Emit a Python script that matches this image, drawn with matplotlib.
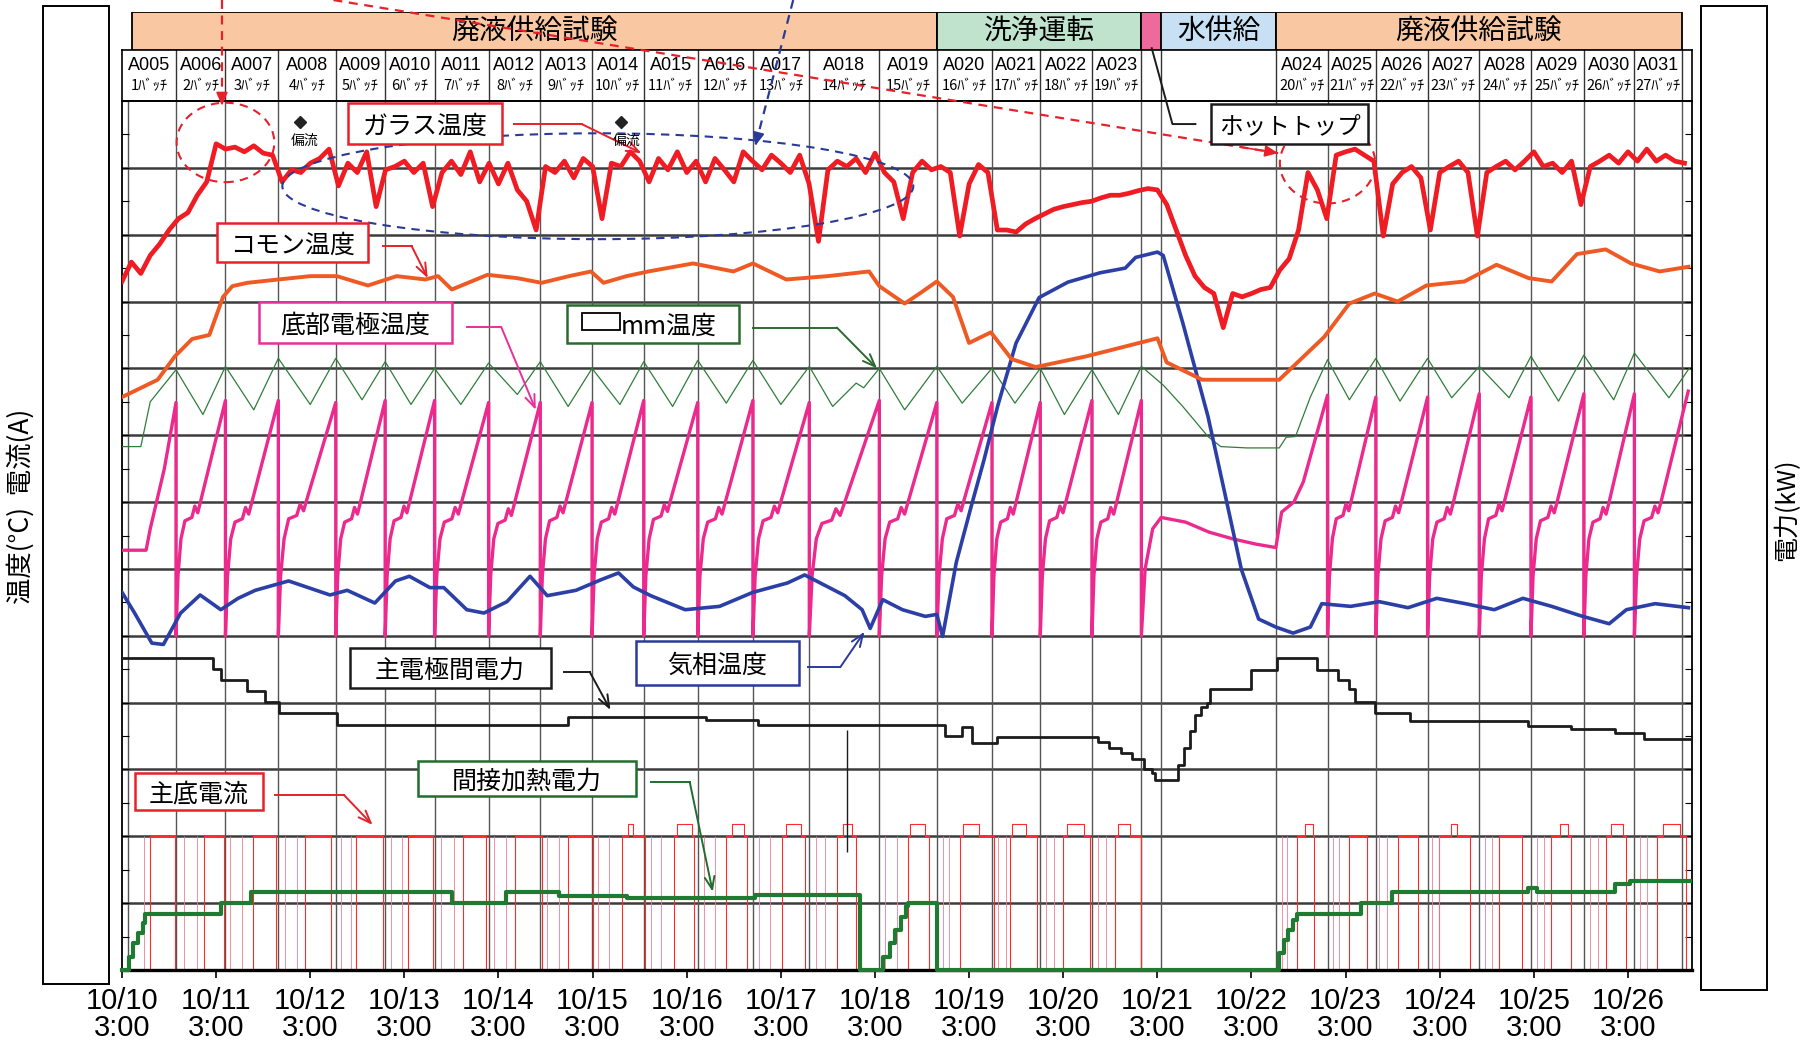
import numpy as np
import matplotlib
matplotlib.use("Agg")
import matplotlib.pyplot as plt
from matplotlib.patches import Rectangle, Ellipse

plt.rcParams["font.family"] = ["Noto Sans CJK JP", "DejaVu Sans"]
NARROW = ["Liberation Sans Narrow", "Liberation Sans", "DejaVu Sans"]

# x = days from 10/10 3:00, y = chart divisions (13 between bottom and top line)
day_ticks = list(range(17))
day_labels = ["10/%d\n3:00" % (10 + d) for d in day_ticks]
x_max = 16.68

# batch table above the trend area
batch_edges = [0.000, 0.574, 1.099, 1.661, 2.271, 2.796, 3.321, 3.895, 4.444, 4.994,
               5.543, 6.117, 6.703, 7.302, 8.046, 8.657, 9.243, 9.756, 10.305, 10.830,
               11.038, 12.259, 12.808, 13.321, 13.871, 14.420, 14.969, 15.531, 16.068, 16.569]
batch_names = ["A005", "A006", "A007", "A008", "A009", "A010", "A011", "A012", "A013", "A014",
               "A015", "A016", "A017", "A018", "A019", "A020", "A021", "A022", "A023", "", "",
               "A024", "A025", "A026", "A027", "A028", "A029", "A030", "A031"]
batch_counts = ["1ﾊﾞｯﾁ", "2ﾊﾞｯﾁ", "3ﾊﾞｯﾁ", "4ﾊﾞｯﾁ", "5ﾊﾞｯﾁ", "6ﾊﾞｯﾁ", "7ﾊﾞｯﾁ", "8ﾊﾞｯﾁ",
                "9ﾊﾞｯﾁ", "10ﾊﾞｯﾁ", "11ﾊﾞｯﾁ", "12ﾊﾞｯﾁ", "13ﾊﾞｯﾁ", "14ﾊﾞｯﾁ", "15ﾊﾞｯﾁ",
                "16ﾊﾞｯﾁ", "17ﾊﾞｯﾁ", "18ﾊﾞｯﾁ", "19ﾊﾞｯﾁ", "", "", "20ﾊﾞｯﾁ", "21ﾊﾞｯﾁ",
                "22ﾊﾞｯﾁ", "23ﾊﾞｯﾁ", "24ﾊﾞｯﾁ", "25ﾊﾞｯﾁ", "26ﾊﾞｯﾁ", "27ﾊﾞｯﾁ"]

# operation phases
phase_names = ["廃液供給試験", "洗浄運転", "", "水供給", "廃液供給試験"]
phase_edges = [0.11, 8.657, 10.830, 11.038, 12.259, 16.569]
phase_colors = ["#f9c7a2", "#bfe3cd", "#ef6a9c", "#c7e0f4", "#f9c7a2"]

# glass temperature, sampled every 0.1 day
glass_t = np.arange(167) * 0.1
glass_v = [10.30, 10.59, 10.42, 10.69, 10.86, 11.07, 11.24, 11.33, 11.59, 11.79,
           12.36, 12.28, 12.31, 12.24, 12.33, 12.22, 12.19, 11.79, 11.97, 11.93,
           12.07, 12.14, 12.28, 11.73, 12.07, 11.93, 12.24, 11.42, 11.97, 12.02,
           12.10, 11.93, 12.07, 11.42, 11.93, 12.10, 11.90, 12.24, 11.79, 12.07,
           11.76, 12.07, 11.67, 11.50, 11.07, 12.02, 11.93, 12.10, 11.85, 12.14,
           12.02, 11.24, 12.07, 12.02, 12.24, 12.10, 11.79, 12.14, 11.97, 12.24,
           11.93, 12.10, 11.79, 12.14, 11.97, 11.79, 12.24, 12.10, 11.97, 12.19,
           12.07, 11.93, 12.19, 11.76, 10.90, 11.97, 12.10, 12.02, 12.14, 11.93,
           12.22, 11.93, 11.79, 11.24, 11.93, 12.10, 11.97, 12.02, 11.93, 10.98,
           11.76, 12.05, 11.93, 11.07, 11.07, 11.04, 11.16, 11.24, 11.31, 11.38,
           11.42, 11.45, 11.48, 11.50, 11.55, 11.59, 11.59, 11.62, 11.66, 11.69,
           11.67, 11.45, 11.07, 10.69, 10.38, 10.21, 10.12, 9.61, 10.12, 10.07,
           10.12, 10.18, 10.21, 10.47, 10.64, 11.07, 11.93, 11.67, 11.24, 12.19,
           12.24, 12.28, 12.19, 12.10, 10.98, 11.76, 11.93, 12.02, 11.85, 11.07,
           11.93, 12.02, 12.10, 11.93, 10.98, 11.93, 12.02, 12.10, 11.97, 12.10,
           12.24, 12.02, 12.07, 11.93, 12.10, 11.45, 12.02, 12.10, 12.19, 12.07,
           12.24, 12.10, 12.28, 12.10, 12.19, 12.10, 12.07]

# common (コモン) temperature
common_t = [0.000, 0.379, 0.562, 0.745, 0.928, 1.074, 1.172, 1.331, 1.661, 2.002,
            2.283, 2.613, 2.918, 3.223, 3.358, 3.504, 3.883, 4.200, 4.457, 4.750,
            4.982, 5.116, 5.360, 5.592, 6.068, 6.496, 6.703, 7.057, 7.497, 7.937,
            8.046, 8.315, 8.474, 8.657, 8.828, 8.999, 9.231, 9.451, 9.707, 10.244,
            11.001, 11.099, 11.477, 11.893, 12.295, 12.772, 13.040, 13.309, 13.553, 13.858,
            14.261, 14.603, 14.945, 15.189, 15.458, 15.763, 16.032, 16.337, 16.642]
common_v = [8.57, 8.83, 9.18, 9.44, 9.50, 10.07, 10.23, 10.28, 10.33, 10.38,
            10.38, 10.24, 10.38, 10.33, 10.38, 10.18, 10.40, 10.35, 10.28, 10.38,
            10.45, 10.28, 10.38, 10.45, 10.57, 10.45, 10.57, 10.33, 10.38, 10.45,
            10.23, 9.97, 10.12, 10.30, 10.07, 9.38, 9.54, 9.14, 9.02, 9.18,
            9.45, 9.09, 8.83, 8.83, 8.83, 9.47, 9.97, 10.12, 10.00, 10.24,
            10.30, 10.55, 10.35, 10.30, 10.71, 10.78, 10.57, 10.45, 10.52]

# □mm temperature
mm_t = [0, 0.2, 0.3, 0.574, 0.86, 1.099, 1.40, 1.661, 2.0, 2.271, 2.55, 2.796, 3.07, 3.321,
        3.6, 3.895, 4.2, 4.444, 4.74, 4.994, 5.29, 5.543, 5.85, 6.117, 6.42, 6.703, 7.0,
        7.302, 7.55, 7.8, 7.88, 8.046, 8.315, 8.657, 8.926, 9.243, 9.487, 9.756, 10.012,
        10.305, 10.586, 10.830, 11.062, 11.27, 11.538, 11.673, 11.954, 12.295, 12.369,
        12.467, 12.625, 12.808, 13.04, 13.321, 13.578, 13.871, 14.127, 14.420, 14.737,
        14.969, 15.262, 15.531, 15.848, 16.068, 16.435, 16.65]
mm_v = [7.83, 7.83, 8.5, 8.98, 8.31, 9.03, 8.38, 9.15, 8.46, 9.15, 8.53, 9.10, 8.46, 9.00,
        8.46, 9.08, 8.61, 9.10, 8.43, 9.00, 8.46, 9.10, 8.43, 9.12, 8.48, 9.12, 8.46,
        9.03, 8.43, 8.78, 8.71, 9.00, 8.38, 9.03, 8.48, 9.00, 8.48, 9.00, 8.31,
        8.98, 8.31, 9.03, 8.75, 8.43, 7.98, 7.83, 7.81, 7.81, 7.97,
        7.98, 8.57, 9.13, 8.53, 9.15, 8.51, 9.15, 8.56, 9.03, 8.56,
        9.18, 8.51, 9.20, 8.53, 9.23, 8.56, 9.0]

# bottom electrode temperature: one saw tooth per batch
elec_floor = 5.0
elec_peak = [8.49, 8.52, 8.52, 8.49, 8.52, 8.52, 8.49, 8.49, 8.49, 8.52,
             8.49, 8.52, 8.49, 8.52, 8.49, 8.49, 8.49, 8.52, 8.52, None, None,
             8.60, 8.57, 8.57, 8.62, 8.57, 8.62, 8.62, 8.66]
elec_shelf = [6.70, 6.72, 6.70, 6.75, 6.70, 6.72, 6.70, 6.68, 6.72, 6.70,
              6.74, 6.70, 6.72, 6.68, 6.70, 6.75, 6.70, 6.72, 6.70, None, None,
              6.85, 6.75, 6.72, 6.70, 6.75, 6.72, 6.70, 6.72]
elec_start_t = [0.0, 0.256, 0.30, 0.38, 0.45, 0.574]
elec_start_v = [6.28, 6.28, 6.6, 7.08, 7.5, 8.49]
elec_idle_t = [10.830, 10.87, 10.95, 11.04, 11.3, 11.55, 11.8, 12.05, 12.259,
               12.32, 12.45, 12.55, 12.808]
elec_idle_v = [5.0, 6.0, 6.6, 6.77, 6.7, 6.55, 6.45, 6.37, 6.32,
               6.85, 7.0, 7.3, 8.60]
elec_end = 16.64

# gas phase temperature
gas_t = [0.000, 0.134, 0.317, 0.440, 0.623, 0.830, 1.050, 1.233, 1.416, 1.770,
         2.210, 2.393, 2.686, 2.906, 3.053, 3.272, 3.419, 3.663, 3.846, 4.090,
         4.335, 4.518, 4.823, 5.092, 5.275, 5.433, 5.617, 5.983, 6.349, 6.703,
         7.070, 7.253, 7.680, 7.863, 7.949, 8.083, 8.291, 8.535, 8.657, 8.718,
         8.864, 9.023, 9.158, 9.304, 9.499, 9.744, 10.049, 10.391, 10.659, 10.769,
         11.001, 11.062, 11.270, 11.538, 11.709, 11.893, 12.076, 12.259, 12.442, 12.625,
         12.747, 13.053, 13.358, 13.663, 13.968, 14.274, 14.579, 14.884, 15.189, 15.495,
         15.800, 15.983, 16.288, 16.642]
gas_v = [5.65, 5.34, 4.89, 4.87, 5.34, 5.61, 5.39, 5.56, 5.68, 5.82,
         5.61, 5.68, 5.49, 5.82, 5.89, 5.72, 5.72, 5.39, 5.34, 5.51,
         5.89, 5.60, 5.68, 5.84, 5.94, 5.73, 5.60, 5.39, 5.44, 5.65,
         5.79, 5.91, 5.60, 5.39, 5.11, 5.54, 5.39, 5.29, 5.32, 4.99,
         6.10, 6.94, 7.63, 8.44, 9.38, 10.06, 10.29, 10.43, 10.50, 10.66,
         10.74, 10.69, 9.68, 8.28, 7.18, 5.99, 5.25, 5.13, 5.04, 5.13,
         5.48, 5.44, 5.51, 5.42, 5.56, 5.48, 5.39, 5.56, 5.44, 5.30,
         5.18, 5.39, 5.48, 5.42]

# main electrode power (step changes) and one short drop
power_t = [0, 0.965, 1.05, 1.331, 1.514, 1.673, 2.283, 4.737, 6.203, 6.752,
           8.742, 8.926, 9.035, 9.292, 10.366, 10.488, 10.611, 10.733, 10.855, 10.94,
           10.977, 11.221, 11.282, 11.343, 11.404, 11.465, 11.526, 11.563, 11.99, 12.271,
           12.698, 12.918, 13.04, 13.101, 13.309, 13.687, 14.933, 15.397, 15.861, 16.166, 16.654]
power_v = [4.67, 4.51, 4.34, 4.17, 4.01, 3.84, 3.67, 3.79, 3.74, 3.67,
           3.50, 3.63, 3.39, 3.48, 3.41, 3.32, 3.24, 3.15, 3.01, 2.94,
           2.84, 3.06, 3.32, 3.58, 3.81, 3.93, 4.00, 4.20, 4.49, 4.67,
           4.49, 4.34, 4.20, 4.01, 3.84, 3.72, 3.65, 3.60, 3.55, 3.46, 3.46]
power_drop_t = 7.70
power_drop_v = 1.77

# indirect heating power (step changes)
heat_t = [0, 0.073, 0.122, 0.171, 0.22, 0.244, 1.05, 1.368, 3.504, 4.078, 4.64, 5.36, 6.728,
          7.839, 8.083, 8.156, 8.217, 8.278, 8.327, 8.352, 8.657, 12.295, 12.344, 12.393,
          12.442, 12.479, 13.162, 13.492, 14.933, 15.03, 15.861, 16.02, 16.654]
heat_v = [0, 0.2, 0.4, 0.55, 0.7, 0.84, 1.00, 1.17, 1.00, 1.17, 1.10, 1.07, 1.12,
          0.0, 0.2, 0.4, 0.6, 0.8, 0.95, 1.00, 0.0, 0.25, 0.45, 0.6,
          0.75, 0.84, 1.00, 1.17, 1.22, 1.17, 1.29, 1.33, 1.33]

# main bottom current: on periods, higher sections inside them, short spikes
current_level = 2.0
current_high_level = 2.19
current_on = [(0.293, 0.562), (0.867, 1.087), (1.392, 1.636), (1.941, 2.222), (2.491, 2.772),
              (3.040, 3.309), (3.626, 3.871), (4.176, 4.457), (4.737, 5.006), (5.311, 5.556),
              (5.861, 6.081), (6.422, 6.642), (7.009, 7.253), (7.595, 7.802), (8.352, 8.571),
              (8.901, 9.267), (9.43, 9.72), (10.0, 10.28), (10.549, 10.83), (12.479, 12.662),
              (13.040, 13.223), (13.553, 13.773), (13.993, 14.322), (14.628, 14.872),
              (15.177, 15.397), (15.763, 15.983), (16.313, 16.618)]
current_high = [(5.372, 5.433), (5.897, 6.056), (6.484, 6.606), (7.057, 7.216), (7.656, 7.753),
                (8.376, 8.535), (8.938, 9.109), (9.451, 9.609), (10.037, 10.220), (10.586, 10.708),
                (12.564, 12.649), (14.115, 14.188), (15.275, 15.360), (15.824, 15.946),
                (16.374, 16.557)]
current_spikes = [0.232, 0.659, 0.794, 1.148, 1.270, 1.734, 1.856, 2.332, 2.430, 2.857, 2.979,
                  3.394, 3.529, 3.956, 4.078, 4.518, 4.640, 5.055, 5.177, 5.617, 5.726, 6.178,
                  6.300, 6.764, 6.886, 7.375, 7.473, 8.107, 8.230, 8.718, 8.791, 9.304, 9.389,
                  9.817, 9.902, 10.366, 10.452, 12.320, 12.381, 12.869, 12.930, 13.358, 13.443,
                  13.919, 13.993, 14.481, 14.554, 15.031, 15.104, 15.592, 15.678, 16.129, 16.203]


def electrode_tooth(b0, b1, shelf, peak):
    span = b1 - b0
    frac = [0.0, 0.04, 0.10, 0.18, 0.32, 0.38, 0.44, 0.50, 1.0]
    vals = [elec_floor, 5.9, 6.45, shelf, shelf + 0.05, shelf + 0.22, shelf + 0.12,
            shelf + 0.3, peak]
    return [b0 + f * span for f in frac], vals


el_t, el_v = list(elec_start_t), list(elec_start_v)
for i, name in enumerate(batch_names):
    if i == 0 or name == "":
        continue
    if name == "A024":
        el_t += elec_idle_t
        el_v += elec_idle_v
        continue
    b0, b1 = batch_edges[i], batch_edges[i + 1]
    if i == len(batch_names) - 1:
        b1 = elec_end
    tt, vv = electrode_tooth(b0, b1, elec_shelf[i], elec_peak[i])
    el_t += tt
    el_v += vv

W, H = 1805, 1048
fig = plt.figure(figsize=(W / 100, H / 100), dpi=100)

def fig_box(x0, y0, x1, y1):
    return [x0 / W, 1 - y1 / H, (x1 - x0) / W, (y1 - y0) / H]

ax = fig.add_axes(fig_box(122, 101, 1692, 970))
ax_batch = fig.add_axes(fig_box(122, 50, 1692, 101))
ax_phase = fig.add_axes(fig_box(122, 12, 1692, 50))
ax.set_zorder(3)
ax.patch.set_alpha(0)
for a in (ax_batch, ax_phase):
    a.set_xlim(0, x_max)
    a.set_ylim(0, 1)
    a.set_xticks([])
    a.set_yticks([])
    a.patch.set_alpha(0)

# phase header
for spine in ax_phase.spines.values():
    spine.set_visible(False)
for k, label in enumerate(phase_names):
    e0, e1 = phase_edges[k], phase_edges[k + 1]
    ax_phase.add_patch(Rectangle((e0, 0), e1 - e0, 1, facecolor=phase_colors[k],
                                 edgecolor="black", lw=1.3))
    if label:
        ax_phase.text((e0 + e1) / 2, 0.5, label, ha="center", va="center", fontsize=20)

# batch table
for spine in ax_batch.spines.values():
    spine.set_linewidth(1.2)
for e in batch_edges[1:]:
    ax_batch.axvline(e, color="#333333", lw=1.0)
for i, name in enumerate(batch_names):
    c = (batch_edges[i] + batch_edges[i + 1]) / 2
    ax_batch.text(c, 0.70, name, ha="center", va="center", fontsize=13, family=NARROW)
    ax_batch.text(c, 0.30, batch_counts[i], ha="center", va="center", fontsize=10.5)

# trend area
ax.set_xlim(0, x_max)
ax.set_ylim(0, 13)
for g in range(1, 13):
    ax.axhline(g, color="#3c3c3c", lw=1.8, zorder=1)
for e in batch_edges[1:]:
    ax.axvline(e, color="#555555", lw=1.0, zorder=1)
ax.axvline(0.065, color="#555555", lw=1.0, zorder=1)
for side in ("left", "right", "top"):
    ax.spines[side].set_linewidth(1.3)
ax.spines["bottom"].set_linewidth(2.4)

ax.set_xticks(day_ticks)
ax.set_xticklabels(day_labels, fontsize=21, family=NARROW)
for lbl in ax.get_xticklabels():
    lbl.set_linespacing(0.95)
ax.tick_params(axis="x", length=6, width=1.2, pad=6)
ax.set_yticks(np.arange(0, 13.01, 0.5))
ax.set_yticklabels([])
ax.tick_params(axis="y", direction="in", length=5, width=0.8, left=True, right=True)

# series
for on, off in current_on:
    xs, ys = [on, on], [0, current_level]
    for h0, h1 in current_high:
        if on <= h0 < off:
            xs += [h0, h0, h1, h1]
            ys += [current_level, current_high_level, current_high_level, current_level]
    xs += [off, off]
    ys += [current_level, 0]
    ax.plot(xs, ys, color="#ff2b2b", lw=0.8, zorder=2)
ax.vlines(current_spikes, 0, current_level, color="#f37c9a", lw=0.6, zorder=2)

ax.plot(heat_t, heat_v, drawstyle="steps-post", color="#1f7a32", lw=3.0, zorder=4,
        clip_on=False)
ax.plot(power_t, power_v, drawstyle="steps-post", color="#1c1c1c", lw=2.0, zorder=4)
ax.vlines(power_drop_t, power_drop_v, np.interp(power_drop_t, power_t, power_v),
          color="#1c1c1c", lw=1.0, zorder=4)
ax.plot(mm_t, mm_v, color="#2f7d3a", lw=0.9, zorder=4)
ax.plot(el_t, el_v, color="#ec2a8e", lw=2.4, zorder=5)
ax.plot(gas_t, gas_v, color="#2b3fa6", lw=2.6, zorder=6)
ax.plot(common_t, common_v, color="#ef5a24", lw=2.8, zorder=6)
ax.plot(glass_t, glass_v, color="#f01c24", lw=3.4, zorder=7)


# callout boxes with bent arrows
def callout(label, box, color, path, size=18, arrow=True):
    t0, t1, g0, g1 = box
    ax.add_patch(Rectangle((t0, g0), t1 - t0, g1 - g0, facecolor="white", edgecolor=color,
                           lw=1.8, zorder=10, clip_on=False))
    if label:
        ax.text((t0 + t1) / 2, (g0 + g1) / 2, label, ha="center", va="center_baseline",
                fontsize=size, zorder=11)
    xs, ys = zip(*path)
    if arrow:
        ax.plot(xs[:-1], ys[:-1], color=color, lw=1.4, zorder=9, clip_on=False)
        ax.annotate("", xy=path[-1], xytext=path[-2], zorder=9,
                    arrowprops=dict(arrowstyle="->,head_length=0.9,head_width=0.35",
                                    color=color, lw=1.4, shrinkA=0, shrinkB=0))
    else:
        ax.plot(xs, ys, color=color, lw=1.4, zorder=9, clip_on=False)


callout("ガラス温度", (2.405, 4.042, 12.359, 12.964), "#e8202a",
        [(4.164, 12.655), (4.884, 12.655), (5.519, 12.22)])
callout("コモン温度", (1.013, 2.613, 10.59, 11.17), "#e8202a",
        [(2.772, 10.83), (3.077, 10.83), (3.248, 10.35)])
callout("底部電極温度", (1.453, 3.504, 9.38, 9.99), "#e8309a",
        [(3.663, 9.62), (4.029, 9.62), (4.396, 8.38)])
callout("", (4.725, 6.557, 9.38, 9.95), "#2a6a30",
        [(6.703, 9.61), (7.595, 9.61), (8.022, 9.0)])
ax.add_patch(Rectangle((4.884, 9.57), 0.403, 0.26, facecolor="white", edgecolor="black",
                       lw=1.3, zorder=11))
ax.text(5.30, 9.665, "mm温度", ha="left", va="center_baseline", fontsize=18, zorder=11)
callout("気相温度", (5.458, 7.192, 4.27, 4.92), "#2a3a9a",
        [(7.289, 4.53), (7.631, 4.53), (7.888, 5.06)])
callout("主電極間電力", (2.418, 4.554, 4.22, 4.82), "#1c1c1c",
        [(4.701, 4.46), (4.969, 4.46), (5.189, 3.89)])
callout("主底電流", (0.134, 1.502, 2.39, 2.94), "#e8202a",
        [(1.624, 2.62), (2.357, 2.62), (2.662, 2.17)])
callout("間接加熱電力", (3.150, 5.458, 2.60, 3.12), "#1f6e2e",
        [(5.617, 2.81), (6.032, 2.81), (6.276, 1.17)])
callout("ホットトップ", (11.575, 13.236, 12.35, 12.96), "#1c1c1c",
        [(10.94, 13.79), (11.16, 12.655), (11.404, 12.655)], size=17, arrow=False)

# drift markers
ax.plot([1.893, 5.299], [12.69, 12.69], ls="none", marker="D", ms=6.5, color="#222222",
        zorder=9)
for tx in (1.941, 5.360):
    ax.text(tx, 12.41, "偏流", ha="center", va="center", fontsize=10, zorder=9)

# dashed highlight rings
ax.add_patch(Ellipse((1.099, 12.38), 1.038, 1.188, fill=False, ls=(0, (4, 3)),
                     edgecolor="#e8202a", lw=1.5, zorder=8))
ax.add_patch(Ellipse((12.808, 12.07), 1.013, 1.205, fill=False, ls=(0, (4, 3)),
                     edgecolor="#e8202a", lw=1.5, zorder=8))
ax.add_patch(Ellipse((5.055, 11.725), 6.703, 1.584, fill=False, ls=(0, (4, 3)),
                     edgecolor="#2a3a9a", lw=1.5, zorder=8))


def dashed_pointer(start, tip, color):
    ax.plot([start[0], tip[0]], [start[1], tip[1]], color=color, lw=1.6, ls=(0, (4, 3)),
            zorder=9, clip_on=False)
    back = (tip[0] - 0.04 * (tip[0] - start[0]), tip[1] - 0.04 * (tip[1] - start[1]))
    ax.annotate("", xy=tip, xytext=back, zorder=9, annotation_clip=False,
                arrowprops=dict(arrowstyle="-|>,head_length=0.8,head_width=0.35",
                                color=color, lw=1.2, shrinkA=0, shrinkB=0))


dashed_pointer((1.062, 14.51), (1.062, 12.93), "#e8202a")
dashed_pointer((2.247, 14.51), (12.283, 12.22), "#e8202a")
dashed_pointer((7.131, 14.51), (6.728, 12.33), "#2a3a9a")

# axis title boxes at both sides
for x0, x1, y1 in ((43, 109, 984), (1701, 1767, 990)):
    fig.add_artist(Rectangle((x0 / W, 1 - y1 / H), (x1 - x0) / W, (y1 - 6) / H,
                             transform=fig.transFigure, fill=False, lw=1.4,
                             edgecolor="black"))
fig.text(21 / W, 1 - 506 / H, "温度(°C)  電流(A)", rotation=90, ha="center",
         va="center", fontsize=19)
fig.text(1787 / W, 1 - 510 / H, "電力(kW)", rotation=90, ha="center", va="center",
         fontsize=18)

fig.savefig("out.png", dpi=100)
